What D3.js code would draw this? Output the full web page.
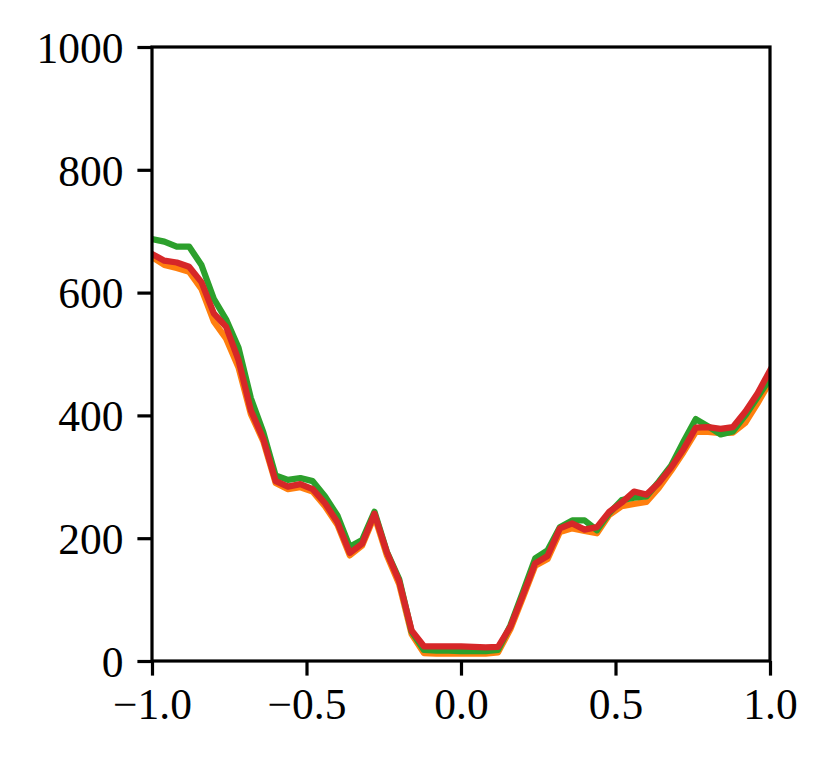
<!DOCTYPE html>
<html>
<head>
<meta charset="utf-8">
<script src="https://cdn.jsdelivr.net/npm/d3@7"></script>
<style>
  body { margin: 0; background: #fff; }
  svg { display: block; }
  .tick text { font-family: "Liberation Serif", "DejaVu Serif", serif; }
</style>
</head>
<body>
<div id="chart"></div>
<script>
const xValues = [
  -1.00, -0.96, -0.92, -0.88, -0.84, -0.80, -0.76, -0.72, -0.68, -0.64,
  -0.60, -0.56, -0.52, -0.48, -0.44, -0.40, -0.36, -0.32, -0.28, -0.24,
  -0.20, -0.16, -0.12, -0.08, -0.04, 0.00, 0.04, 0.08, 0.12, 0.16,
  0.20, 0.24, 0.28, 0.32, 0.36, 0.40, 0.44, 0.48, 0.52, 0.56,
  0.60, 0.64, 0.68, 0.72, 0.76, 0.80, 0.84, 0.88, 0.92, 0.96, 1.00
];

const orangeValues = [
  658, 645, 640, 634, 606, 553, 525, 478, 402, 358,
  290, 280, 283, 276, 252, 222, 172, 188, 236, 172,
  125, 44, 13, 12, 12, 12, 12, 12, 14, 52,
  103, 155, 166, 210, 216, 212, 208, 238, 252, 256,
  259, 282, 310, 340, 373, 373, 371, 372, 388, 420, 455
];

const greenValues = [
  687, 683, 675, 675, 645, 590, 556, 510, 428, 373,
  302, 295, 298, 293, 268, 237, 186, 197, 243, 178,
  133, 48, 18, 17, 17, 16, 16, 16, 18, 58,
  112, 167, 180, 218, 229, 229, 213, 241, 262, 266,
  268, 292, 318, 357, 394, 382, 369, 374, 400, 430, 460
];

const redValues = [
  663, 652, 649, 642, 617, 566, 544, 490, 408, 362,
  293, 284, 288, 280, 257, 226, 176, 191, 240, 177,
  130, 50, 24, 24, 24, 24, 23, 22, 23, 56,
  107, 159, 171, 216, 224, 214, 218, 243, 258, 276,
  271, 290, 315, 345, 380, 381, 378, 381, 406, 436, 473
];

const xTicks = [-1.0, -0.5, 0.0, 0.5, 1.0];
const yTicks = [0, 200, 400, 600, 800, 1000];

const series = [
  { color: "#ff7f0e", values: orangeValues },
  { color: "#2ca02c", values: greenValues },
  { color: "#d62728", values: redValues }
];

const width = 831;
const height = 766;
const plotLeft = 152, plotRight = 770, plotTop = 47, plotBottom = 661;

const svg = d3.select("#chart")
  .append("svg")
    .attr("width", width)
    .attr("height", height);

const x = d3.scaleLinear().domain([-1, 1]).range([plotLeft, plotRight]);
const y = d3.scaleLinear().domain([0, 1000]).range([plotBottom, plotTop]);

const line = d3.line()
  .x((d, i) => x(xValues[i]))
  .y(d => y(d));

svg.append("defs").append("clipPath")
    .attr("id", "clip")
  .append("rect")
    .attr("x", plotLeft)
    .attr("y", plotTop)
    .attr("width", plotRight - plotLeft)
    .attr("height", plotBottom - plotTop);

// Lines
svg.append("g")
    .attr("clip-path", "url(#clip)")
  .selectAll("path")
  .data(series)
  .join("path")
    .attr("d", d => line(d.values))
    .attr("fill", "none")
    .attr("stroke", d => d.color)
    .attr("stroke-width", 6.25)
    .attr("stroke-linejoin", "round")
    .attr("stroke-linecap", "square");

const fmt = d => (d < 0 ? "\u2212" : "") + Math.abs(d).toFixed(1);

// Axes
const xAxis = svg.append("g")
    .attr("transform", `translate(0,${plotBottom})`)
    .call(d3.axisBottom(x).tickValues(xTicks).tickFormat(fmt).tickSize(14.6).tickPadding(13));

const yAxis = svg.append("g")
    .attr("transform", `translate(${plotLeft},0)`)
    .call(d3.axisLeft(y).tickValues(yTicks).tickFormat(d3.format("d")).tickSize(14.6).tickPadding(14));

[xAxis, yAxis].forEach(g => {
  g.select(".domain").remove();
  g.selectAll(".tick line").attr("stroke", "#000").attr("stroke-width", 3.2);
  g.selectAll(".tick text").attr("font-size", 43.5).attr("fill", "#000");
});

yAxis.selectAll(".tick text").attr("dy", "0.35em");

// Frame
svg.append("rect")
    .attr("x", plotLeft)
    .attr("y", plotTop)
    .attr("width", plotRight - plotLeft)
    .attr("height", plotBottom - plotTop)
    .attr("fill", "none")
    .attr("stroke", "#000")
    .attr("stroke-width", 3.2)
    .attr("stroke-linejoin", "miter");
</script>
</body>
</html>
